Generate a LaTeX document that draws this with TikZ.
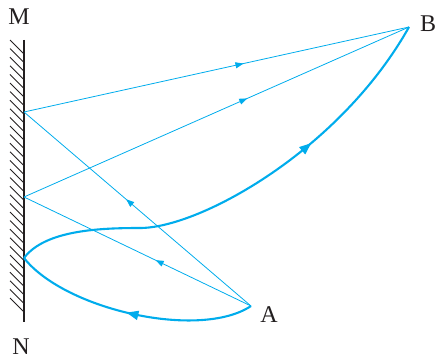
\documentclass[tikz,border=0pt]{standalone}
\usepackage{fontspec}
\setmainfont{Liberation Serif}
\usetikzlibrary{arrows.meta,decorations.markings}
\definecolor{ray}{RGB}{0,172,236}
\definecolor{mirrorc}{RGB}{35,31,32}
\tikzset{
  thinray/.style={draw=ray,line width=0.8pt},
  thickray/.style={draw=ray,line width=2.1pt},
  midarrow/.style={postaction={decorate},decoration={markings,
     mark=at position #1 with {\arrow{Triangle[length=8pt,width=6pt]}}}},
  bigarrow/.style={postaction={decorate},decoration={markings,
     mark=at position #1 with {\arrow{Triangle[length=12pt,width=9pt]}}}},
  lbl/.style={font=\fontsize{24}{24}\selectfont,text=mirrorc,inner sep=0pt}
}
\begin{document}
\begin{tikzpicture}[x=1pt,y=-1pt]
\useasboundingbox (0,0) rectangle (438,361);
% mirror
\coordinate (MT) at (24,40);
\coordinate (MB) at (24,322);
\foreach \y in {40,48.6,...,306} \draw[mirrorc,line width=0.9pt] (10,\y) -- (24,\y+14);
\draw[mirrorc,line width=1.7pt] (MT) -- (MB);
% points
\coordinate (A) at (251,306);
\coordinate (B) at (409,27);
\coordinate (P1) at (24,112);
\coordinate (P2) at (24,197);
\coordinate (P3) at (24,258);
% labels
\node[lbl] (lM) at (19,17) {M};
\node[lbl] (lN) at (21,347) {N};
\node[lbl] (lA) at (269,315) {A};
\node[lbl] (lB) at (428,24) {B};
% thin rays
\path[thinray,midarrow=0.55] (A) -- (P1);
\path[thinray,midarrow=0.42] (A) -- (P2);
\path[thinray,midarrow=0.57] (P1) -- (B);
\path[thinray,midarrow=0.58] (P2) -- (B);
% thick curves
\path[thickray,bigarrow=0.52] (A) .. controls (200,340) and (65,310) .. (P3);
\path[thickray] (P3) .. controls (45,230) and (100,228) .. (140,228);
\path[thickray,bigarrow=0.56] (140,228) .. controls (200,228) and (340,150) .. (B);
\end{tikzpicture}
\end{document}
